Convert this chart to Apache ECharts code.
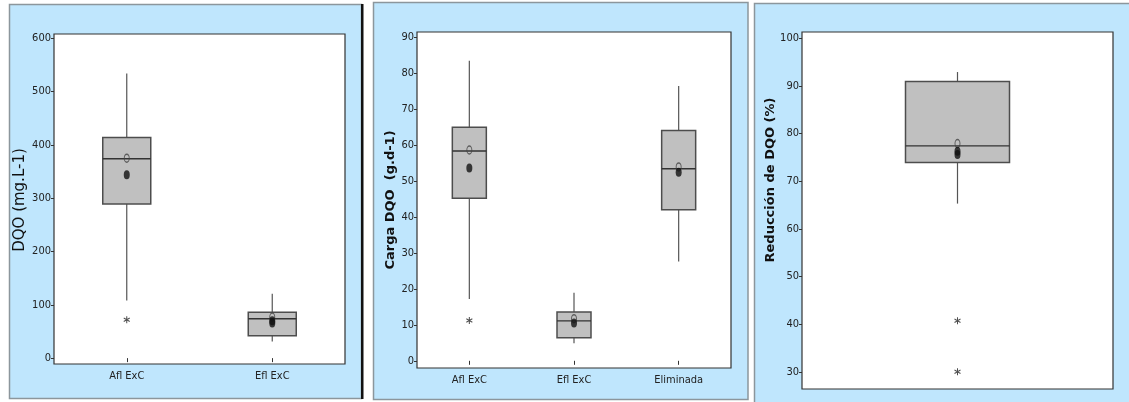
<!DOCTYPE html>
<html>
<head>
<meta charset="utf-8">
<style>
  html, body { margin: 0; padding: 0; background: #ffffff; }
  #chart { width: 1129px; height: 402px; }
</style>
<script src="https://cdn.jsdelivr.net/npm/echarts@6/dist/echarts.min.js"></script>
</head>
<body>
<div id="chart"></div>
<script>
// ---- DQO concentration (mg.L-1) ----
const cats1 = ['Afl ExC', 'Efl ExC'];
// [low whisker, Q1, median, Q3, high whisker]
const box1 = [
  [108, 289, 374, 414, 534],
  [31, 42, 74, 86, 121]
];
const outliers1 = [[0, 72]];
const hollow1 = [[0, 375], [1, 77]];
const solid1 = [[0, 344], [1, 70], [1, 66]];
const ticks1 = [0, 100, 200, 300, 400, 500, 600];

// ---- DQO load (g.d-1) ----
const cats2 = ['Afl ExC', 'Efl ExC', 'Eliminada'];
const box2 = [
  [17.2, 45.2, 58.3, 64.9, 83.4],
  [4.9, 6.4, 11.1, 13.6, 18.9],
  [27.6, 42.0, 53.4, 64.0, 76.4]
];
const outliers2 = [[0, 11.2]];
const hollow2 = [[0, 58.6], [1, 11.7], [2, 53.9]];
const solid2 = [[0, 53.6], [1, 10.5], [2, 52.4]];
const ticks2 = [0, 10, 20, 30, 40, 50, 60, 70, 80, 90];

// ---- DQO reduction (%) ----
const cats3 = [''];
const box3 = [[65.3, 73.9, 77.4, 90.9, 92.9]];
const outliers3 = [[0, 40.7], [0, 30.0]];
const hollow3 = [[0, 77.9]];
const solid3 = [[0, 76.3], [0, 75.6]];
const ticks3 = [30, 40, 50, 60, 70, 80, 90, 100];

const NARROW = '"Liberation Sans Narrow", "DejaVu Sans Condensed", "Arial Narrow", sans-serif';
const PANEL_BG = '#bfe6fd';
const PANEL_EDGE = '#8c969c';

const ASTERISK = 'path://M5 0V10M0.67 2.5L9.33 7.5M0.67 7.5L9.33 2.5';
const ELLIPSE = 'path://M0,5a5,5 0 1,0 10,0a5,5 0 1,0 -10,0Z';

function boxRenderer(boxWidth) {
  return function (params, api) {
    const x = api.value(0);
    const lo = api.coord([x, api.value(1)]);
    const q1 = api.coord([x, api.value(2)]);
    const med = api.coord([x, api.value(3)]);
    const q3 = api.coord([x, api.value(4)]);
    const hi = api.coord([x, api.value(5)]);
    const half = boxWidth / 2;
    const whisker = { stroke: '#555555', lineWidth: 1.2 };
    return {
      type: 'group',
      children: [
        { type: 'line', shape: { x1: lo[0], y1: lo[1], x2: q1[0], y2: q1[1] }, style: whisker },
        { type: 'line', shape: { x1: q3[0], y1: q3[1], x2: hi[0], y2: hi[1] }, style: whisker },
        {
          type: 'rect',
          shape: { x: q3[0] - half, y: q3[1], width: boxWidth, height: q1[1] - q3[1] },
          style: { fill: '#c0c0c0', stroke: '#4d4d4d', lineWidth: 1.5 }
        },
        {
          type: 'line',
          shape: { x1: med[0] - half, y1: med[1], x2: med[0] + half, y2: med[1] },
          style: { stroke: '#333333', lineWidth: 1.4 }
        }
      ]
    };
  };
}

function boxData(boxes) {
  return boxes.map((b, i) => [i].concat(b));
}

function panelSeries(idx, boxes, outs, hollow, solid, boxWidth) {
  return [
    {
      type: 'custom',
      xAxisIndex: idx, yAxisIndex: idx,
      renderItem: boxRenderer(boxWidth),
      encode: { x: 0, y: [1, 2, 3, 4, 5] },
      data: boxData(boxes),
      z: 2
    },
    {
      type: 'scatter', xAxisIndex: idx, yAxisIndex: idx,
      symbol: ASTERISK, symbolSize: [6, 7],
      itemStyle: { color: 'rgba(0,0,0,0)', borderColor: '#222222', borderWidth: 1.1 },
      data: outs, z: 3
    },
    {
      type: 'scatter', xAxisIndex: idx, yAxisIndex: idx,
      symbol: ELLIPSE, symbolSize: [5, 8],
      itemStyle: { color: 'rgba(0,0,0,0)', borderColor: '#444444', borderWidth: 1.2 },
      data: hollow, z: 3
    },
    {
      type: 'scatter', xAxisIndex: idx, yAxisIndex: idx,
      symbol: ELLIPSE, symbolSize: [6, 9],
      itemStyle: { color: '#111111' },
      data: solid, z: 4
    }
  ];
}

function xAxisFor(idx, cats, showLabels) {
  return {
    type: 'category', gridIndex: idx, data: cats,
    boundaryGap: true,
    axisLine: { show: false },
    axisTick: { show: showLabels, length: 4, alignWithLabel: true, lineStyle: { color: '#333' } },
    axisLabel: { show: showLabels, margin: 7, fontFamily: NARROW, fontSize: 11, color: '#222222' },
    splitLine: { show: false }
  };
}

function yAxisFor(idx, min, max, ticks) {
  return {
    type: 'value', gridIndex: idx, min: min, max: max,
    axisLine: { show: false },
    axisTick: { show: true, length: 3, customValues: ticks, lineStyle: { color: '#333' } },
    axisLabel: { margin: 3, customValues: ticks, fontFamily: NARROW, fontSize: 11, color: '#222222' },
    splitLine: { show: false }
  };
}

const gridStyle = { show: true, backgroundColor: '#ffffff', borderColor: '#333333', borderWidth: 1.2 };

const chart = echarts.init(document.getElementById('chart'), null, { renderer: 'canvas' });
chart.setOption({
  animation: false,
  backgroundColor: '#ffffff',
  graphic: [
    { type: 'rect', z: -10, shape: { x: 9.5, y: 4.5, width: 352, height: 394 },
      style: { fill: PANEL_BG, stroke: PANEL_EDGE, lineWidth: 1.5 } },
    { type: 'rect', z: -9, shape: { x: 361, y: 4, width: 2.5, height: 395 },
      style: { fill: '#111111' } },
    { type: 'rect', z: -10, shape: { x: 373.5, y: 2.5, width: 374.5, height: 397 },
      style: { fill: PANEL_BG, stroke: PANEL_EDGE, lineWidth: 1.5 } },
    { type: 'rect', z: -10, shape: { x: 754.5, y: 3.5, width: 380, height: 402 },
      style: { fill: PANEL_BG, stroke: PANEL_EDGE, lineWidth: 1.5 } },
    { type: 'text', z: 10, x: 20, y: 200, rotation: Math.PI / 2,
      style: { text: 'DQO (mg.L-1)', fill: '#111111', font: '15px "DejaVu Sans"', align: 'center', verticalAlign: 'middle' } },
    { type: 'text', z: 10, x: 391, y: 200, rotation: Math.PI / 2,
      style: { text: 'Carga DQO  (g.d-1)', fill: '#111111', font: 'bold 13px "DejaVu Sans"', align: 'center', verticalAlign: 'middle' } },
    { type: 'text', z: 10, x: 771, y: 180, rotation: Math.PI / 2,
      style: { text: 'Reducción de DQO (%)', fill: '#111111', font: 'bold 13px "DejaVu Sans"', align: 'center', verticalAlign: 'middle' } }
  ],
  grid: [
    Object.assign({ left: 54, top: 34, width: 291, height: 330 }, gridStyle),
    Object.assign({ left: 417, top: 32, width: 314, height: 336 }, gridStyle),
    Object.assign({ left: 802, top: 32, width: 311, height: 357 }, gridStyle)
  ],
  xAxis: [
    xAxisFor(0, cats1, true),
    xAxisFor(1, cats2, true),
    xAxisFor(2, cats3, false)
  ],
  yAxis: [
    yAxisFor(0, -11, 608, ticks1),
    yAxisFor(1, -2, 91.4, ticks2),
    yAxisFor(2, 26.4, 101.3, ticks3)
  ],
  series: []
    .concat(panelSeries(0, box1, outliers1, hollow1, solid1, 48))
    .concat(panelSeries(1, box2, outliers2, hollow2, solid2, 34))
    .concat(panelSeries(2, box3, outliers3, hollow3, solid3, 104))
});
</script>
</body>
</html>
